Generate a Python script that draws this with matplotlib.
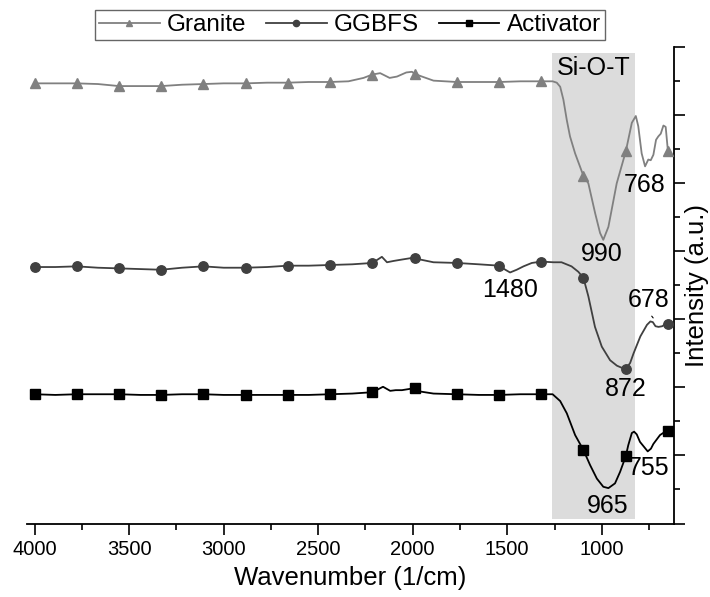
import numpy as np
import matplotlib
matplotlib.use('Agg')
import matplotlib.pyplot as plt
from matplotlib.lines import Line2D
from matplotlib.ticker import MultipleLocator

plt.rcParams['font.family'] = ['Liberation Sans', 'DejaVu Sans']

# wavenumbers where the symbols sit on every curve
marker_wn = [4000, 3777, 3553, 3330, 3107, 2883, 2660, 2437, 2213, 1990,
             1767, 1543, 1320, 1097, 873, 650]

# Granite (offset spectrum, arbitrary units)
granite_wn = [4000, 3890, 3777, 3665, 3553, 3440, 3330, 3220, 3107, 3000,
              2883, 2770, 2660, 2550, 2437, 2340, 2260, 2213, 2172, 2122,
              2083, 2034, 2004, 1990, 1951, 1890, 1767, 1660, 1543, 1430,
              1320, 1260, 1238, 1220, 1203, 1185, 1168, 1141, 1097, 1071,
              1035, 1009, 992, 965, 921, 873, 841, 820, 807, 789,
              771, 754, 741, 727, 713, 701, 688, 674, 662, 650]
granite_int = [6.47, 6.47, 6.47, 6.46, 6.43, 6.43, 6.43, 6.45, 6.46, 6.47,
               6.47, 6.48, 6.48, 6.49, 6.49, 6.50, 6.55, 6.60, 6.62, 6.55,
               6.57, 6.63, 6.64, 6.61, 6.57, 6.51, 6.49, 6.49, 6.49, 6.50,
               6.50, 6.50, 6.48, 6.42, 6.23, 5.93, 5.69, 5.44, 5.11, 5.00,
               4.56, 4.27, 4.17, 4.36, 5.00, 5.47, 5.89, 5.99, 5.84, 5.44,
               5.25, 5.35, 5.34, 5.42, 5.64, 5.69, 5.73, 5.85, 5.83, 5.47]

# GGBFS
ggbfs_wn = [4000, 3890, 3777, 3665, 3553, 3440, 3330, 3220, 3107, 3000,
            2883, 2770, 2660, 2550, 2437, 2320, 2213, 2163, 2136, 2100,
            2057, 1990, 1960, 1890, 1767, 1650, 1543, 1510, 1485, 1450,
            1414, 1370, 1320, 1256, 1213, 1160, 1124, 1097, 1071, 1036,
            1000, 956, 920, 895, 873, 850, 832, 796, 761, 743,
            730, 716, 700, 680, 665, 650]
ggbfs_int = [3.77, 3.77, 3.78, 3.76, 3.75, 3.74, 3.73, 3.76, 3.78, 3.76,
             3.76, 3.77, 3.79, 3.79, 3.80, 3.81, 3.83, 3.92, 3.84, 3.86,
             3.88, 3.91, 3.88, 3.84, 3.83, 3.81, 3.79, 3.73, 3.69, 3.73,
             3.78, 3.83, 3.85, 3.84, 3.84, 3.78, 3.70, 3.61, 3.34, 2.89,
             2.60, 2.40, 2.32, 2.29, 2.27, 2.36, 2.50, 2.75, 2.92, 2.97,
             2.96, 2.90, 2.89, 2.90, 2.93, 2.93]

# Activator
activator_wn = [4000, 3890, 3777, 3665, 3553, 3440, 3330, 3220, 3107, 3000,
                2883, 2770, 2660, 2550, 2437, 2320, 2213, 2157, 2119, 2090,
                2057, 1990, 1960, 1890, 1767, 1650, 1543, 1430, 1320, 1260,
                1248, 1220, 1185, 1141, 1097, 1062, 1026, 992, 965, 930,
                903, 873, 860, 841, 829, 815, 798, 757, 740, 727,
                692, 670, 650]
activator_int = [1.90, 1.89, 1.90, 1.90, 1.90, 1.89, 1.89, 1.90, 1.90, 1.89,
                 1.89, 1.89, 1.89, 1.89, 1.90, 1.91, 1.93, 2.01, 1.95, 1.96,
                 1.96, 1.99, 1.94, 1.91, 1.90, 1.89, 1.89, 1.90, 1.90, 1.90,
                 1.87, 1.80, 1.62, 1.30, 1.08, 0.86, 0.66, 0.54, 0.52, 0.59,
                 0.76, 0.99, 1.15, 1.33, 1.35, 1.31, 1.20, 1.06, 1.10, 1.17,
                 1.30, 1.34, 1.36]

# peak labels: text, wavenumber, intensity
peak_text = ['990', '768', '1480', '678', '872', '965', '755']
peak_wn = [1000, 771, 1485, 752, 872, 968, 752]
peak_y = [3.96, 4.98, 3.43, 3.29, 1.98, 0.26, 0.82]

band_lo, band_hi = 824, 1262

series = [
    ('Granite', granite_wn, granite_int, '#808080', '^', 7.5),
    ('GGBFS', ggbfs_wn, ggbfs_int, '#404040', 'o', 6.8),
    ('Activator', activator_wn, activator_int, '#000000', 's', 6.5),
]

fig = plt.figure(figsize=(7.1, 5.97), dpi=100)
ax = fig.add_axes([27 / 710, 1 - 523.5 / 597, (674 - 27) / 710, (523.5 - 47.3) / 597])

ax.axvspan(band_lo, band_hi, ymin=0.01, ymax=0.988, color='#dcdcdc', lw=0, zorder=0)
ax.text((band_lo + band_hi) / 2, 6.7, 'Si-O-T', ha='center', va='center', fontsize=18)

handles = []
for name, wn, inten, col, mk, ms in series:
    wn = np.array(wn)
    idx = list(np.where(np.isin(wn, marker_wn))[0])
    ax.plot(wn, inten, color=col, lw=1.3, marker=mk, markersize=ms,
            markevery=idx, zorder=3)
    handles.append(Line2D([], [], color=col, lw=1.3, marker=mk, markersize=4.5))

for t, x, y in zip(peak_text, peak_wn, peak_y):
    ax.text(x, y, t, ha='center', va='center', fontsize=18)

# small leader line for the 678 band
ax.annotate('', xy=(719, 2.99), xytext=(745, 3.08),
            arrowprops=dict(arrowstyle='-', lw=0.8, color='black'))

ax.set_xlim(4040, 618)
ax.set_ylim(0, 7)
ax.xaxis.set_major_locator(MultipleLocator(500))
ax.xaxis.set_minor_locator(MultipleLocator(250))
ax.yaxis.set_major_locator(MultipleLocator(1))
ax.yaxis.set_minor_locator(MultipleLocator(0.5))

for s in ['top', 'left']:
    ax.spines[s].set_visible(False)
for s in ['bottom', 'right']:
    ax.spines[s].set_linewidth(1.3)

ax.yaxis.tick_right()
ax.yaxis.set_label_position('right')
ax.tick_params(axis='both', which='major', direction='out', length=8, width=1.2)
ax.tick_params(axis='both', which='minor', direction='out', length=4, width=1.2)
ax.tick_params(axis='y', which='both', labelright=False, labelleft=False)
ax.tick_params(axis='x', labelsize=14.5, pad=4)

ax.set_xlabel('Wavenumber (1/cm)', fontsize=18.5, labelpad=5)
ax.set_ylabel('Intensity (a.u.)', fontsize=18.5, labelpad=0)

leg = fig.legend(handles, [s[0] for s in series], loc='center',
                 bbox_to_anchor=(350 / 710, 1 - 25 / 597), ncol=3,
                 fontsize=17.5, frameon=True, fancybox=False, borderpad=0.15,
                 handlelength=2.5, handletextpad=0.3, columnspacing=0.8,
                 borderaxespad=0)
leg.get_frame().set_edgecolor('#404040')
leg.get_frame().set_linewidth(1.0)

fig.savefig('out.png', dpi=100)
